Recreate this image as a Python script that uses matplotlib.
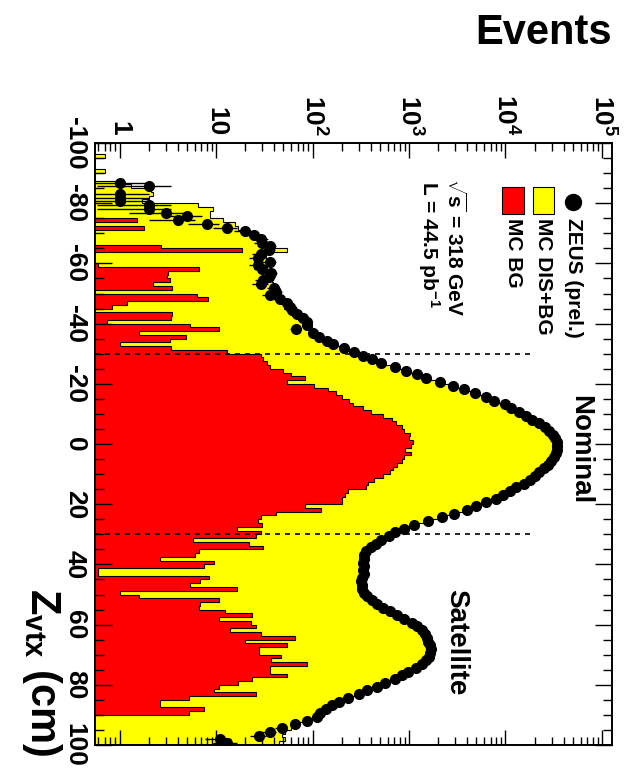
import numpy as np
import matplotlib
matplotlib.use("Agg")
import matplotlib.pyplot as plt
from matplotlib.patches import Rectangle
from matplotlib.lines import Line2D
from matplotlib.ticker import FixedLocator, MultipleLocator, LogLocator, NullFormatter

plt.rcParams['font.family'] = ['Liberation Sans', 'DejaVu Sans']
plt.rcParams['font.weight'] = 'bold'
plt.rcParams['mathtext.fontset'] = 'custom'
plt.rcParams['mathtext.rm'] = 'Liberation Sans:bold'
plt.rcParams['mathtext.it'] = 'Liberation Sans:bold'
plt.rcParams['mathtext.bf'] = 'Liberation Sans:bold'
plt.rcParams['mathtext.sf'] = 'Liberation Sans:bold'

# Z_vtx binning, 160 bins of 1.25 cm
z_edges = np.linspace(-100, 100, 161)

# ZEUS (prel.) data, events per bin
zeus = [
    0, 0, 0, 0, 0, 0, 0, 0, 0, 0,
    1, 2, 0, 1, 1, 1, 2, 2, 3, 5,
    4, 8, 13, 20, 25, 29, 30, 36, 35, 29,
    27, 36, 27, 30, 37, 35, 31, 29, 40, 42,
    36, 46, 54, 58, 62, 69, 80, 87, 88, 67,
    102, 118, 140, 165, 210, 270, 330, 410, 510, 720,
    930, 1200, 1510, 2090, 2880, 3700, 4800, 6300, 7600, 9800,
    11500, 13800, 16200, 19000, 22400, 25700, 28200, 30900, 32400, 33900,
    34300, 33900, 33100, 31600, 29500, 27500, 25100, 22400, 20400, 17800,
    15500, 12900, 11200, 9500, 7900, 6300, 5000, 4000, 2900, 2200,
    1580, 1120, 890, 720, 620, 510, 450, 400, 360, 340,
    340, 330, 340, 330, 340, 325, 315, 325, 325, 345,
    370, 415, 470, 540, 630, 760, 890, 1070, 1200, 1380,
    1480, 1550, 1580, 1660, 1700, 1660, 1620, 1510, 1380, 1170,
    980, 850, 710, 560, 470, 370, 300, 235, 190, 160,
    138, 120, 110, 87, 66, 48, 36, 28, 11, 13,
]

# MC DIS+BG
mc_dis_bg = [
    0, 0, 0, 0.7, 0, 0, 0, 0.7, 0, 0,
    0.9, 1.3, 2.1, 2.2, 2.0, 1.7, 6.5, 9.2, 8.7, 8.7,
    11.7, 15.7, 17, 22, 24, 28, 31, 33, 54, 32,
    33, 34, 33, 34, 36, 37, 38, 39, 41, 43,
    46, 48, 50, 51, 56, 62, 70, 80, 88, 98,
    108, 122, 140, 165, 205, 260, 320, 400, 495, 690,
    890, 1150, 1450, 2000, 2750, 3550, 4600, 6000, 7300, 9300,
    11000, 13300, 15700, 18300, 21500, 24700, 27200, 29800, 31300, 32500,
    32800, 32400, 31800, 30600, 28500, 26500, 24100, 21600, 19600, 17100,
    14900, 12400, 10700, 9100, 7600, 6050, 4800, 3850, 2800, 2100,
    1520, 1080, 855, 690, 595, 490, 430, 385, 345, 330,
    325, 320, 330, 300, 320, 315, 310, 315, 315, 335,
    360, 405, 455, 525, 610, 735, 860, 1030, 1160, 1330,
    1430, 1500, 1530, 1610, 1650, 1620, 1580, 1470, 1340, 1140,
    950, 825, 690, 550, 460, 365, 295, 235, 195, 160,
    135, 122, 104, 86, 70, 60, 52, 48, 52, 45,
]

# MC BG only
mc_bg = [
    0, 0, 0, 0, 0, 0, 0, 0, 0, 0,
    0, 0, 0, 0, 0, 0, 0, 0, 0, 0,
    1.5, 0, 1.8, 0, 0, 0, 0, 2.7, 18.7, 0,
    0, 0, 0.6, 6.7, 3.2, 3.1, 3.3, 2.2, 3.5, 0,
    6.4, 8.3, 1.2, 0.84, 0, 3.5, 3.4, 0.75, 5.4, 10.8,
    1.6, 4.9, 3.3, 1.0, 3.4, 13, 29, 31, 34, 36,
    49, 60, 84, 54, 103, 145, 175, 200, 240, 265,
    330, 400, 535, 660, 740, 840, 880, 1030, 1000, 1110,
    1060, 900, 1050, 880, 850, 760, 680, 640, 535, 430,
    380, 360, 235, 215, 200, 200, 84, 122, 42, 29,
    27, 30, 16.4, 29, 26, 5.8, 21.8, 31, 6.6, 6.0,
    2.6, 9.6, 7.5, 0.6, 0.6, 8.4, 6.9, 5.4, 16.4, 1.0,
    1.6, 10.8, 6.9, 6.6, 12.3, 23.6, 10.8, 23, 26, 14,
    29, 66, 20, 55, 28, 28, 47, 37, 87, 36,
    36, 54, 23.6, 17, 10.8, 9.6, 26, 5.2, 2.6, 2.6,
    7.5, 5.2, 0, 0, 0, 0, 0, 0, 0, 0,
]

z_ticks = [-100, -80, -60, -40, -20, 0, 20, 40, 60, 80, 100]
z_labels = ['-100', '-80', '-60', '-40', '-20', '0', '20', '40', '60', '80', '100']
ev_ticks = [1, 10, 1e2, 1e3, 1e4, 1e5]
ev_labels = ['1', '10', r'$\mathbf{10^{2}}$', r'$\mathbf{10^{3}}$',
             r'$\mathbf{10^{4}}$', r'$\mathbf{10^{5}}$']

# nominal / satellite cut lines
cut_z = [-30, 30]
cut_end = 2e4

FLOOR = 1e-3


def fx(x):
    return x / 624


def fy(y):
    return 1 - y / 771


fig = plt.figure(figsize=(6.24, 7.71), dpi=100)
ax = fig.add_axes([fx(95), fy(745), fx(612) - fx(95), fy(143) - fy(745)])
ax.set_xscale('log')
ax.set_xlim(0.557, 1.27e5)
ax.set_ylim(100, -100)

yel = np.array(mc_dis_bg, dtype=float)
red = np.array(mc_bg, dtype=float)
ax.stairs(np.where(yel > 0, yel, FLOOR), z_edges, orientation='horizontal',
          baseline=FLOOR, fill=True, facecolor='#ffff00', edgecolor='black', linewidth=0.8)
ax.stairs(np.where(red > 0, red, FLOOR), z_edges, orientation='horizontal',
          baseline=FLOOR, fill=True, facecolor='#ff0000', edgecolor='black', linewidth=0.8)

ax.hlines(cut_z, ax.get_xlim()[0], cut_end, colors='black', linestyles=(0, (3, 3)), linewidth=1.2)

# data with sqrt(N) errors (horizontal because the plot is turned)
n = np.array(zeus, dtype=float)
zc = 0.5 * (z_edges[:-1] + z_edges[1:])
m = n > 0
err = np.sqrt(n[m])
lo = n[m] - np.maximum(n[m] - err, 0.01)
ax.errorbar(n[m], zc[m], xerr=[lo, err], fmt='o', color='black', ms=7,
            elinewidth=1.0, capsize=0, zorder=5)

# axes look (ROOT style, turned by 90 degrees)
for s in ax.spines.values():
    s.set_linewidth(1.4)
ax.yaxis.set_major_locator(FixedLocator(z_ticks))
ax.yaxis.set_minor_locator(MultipleLocator(5))
ax.set_yticks(z_ticks, z_labels, rotation=-90, va='center', fontsize=19, fontweight='bold')
ax.xaxis.set_major_locator(FixedLocator(ev_ticks))
ax.xaxis.set_minor_locator(LogLocator(base=10, subs=np.arange(2, 10), numticks=30))
ax.xaxis.set_minor_formatter(NullFormatter())
ax.set_xticks(ev_ticks, ev_labels, rotation=-90, fontsize=19, fontweight='bold')
ax.tick_params(axis='y', which='major', direction='in', length=12.5, width=1,
               left=True, right=True, labelleft=True, labelright=False, pad=6)
ax.tick_params(axis='y', which='minor', direction='in', length=6.5, width=1,
               left=True, right=True)
ax.tick_params(axis='x', which='major', direction='in', length=10.5, width=1,
               top=True, bottom=True, labeltop=True, labelbottom=False, pad=5)
ax.tick_params(axis='x', which='minor', direction='in', length=5.5, width=1,
               top=True, bottom=True)

# titles
fig.text(fx(612), fy(33), 'Events', ha='right', va='center', fontsize=30, fontweight='bold')
fig.text(fx(42), fy(756), r'$\mathbf{Z_{vtx}}$ (cm)', rotation=-90, rotation_mode='anchor',
         ha='right', va='center', fontsize=30, fontweight='bold')

# legend
fig.add_artist(Line2D([fx(573)], [fy(202)], marker='o', ms=11.5, color='black',
                      linestyle='none', transform=fig.transFigure))
fig.add_artist(Rectangle((fx(533), fy(214)), fx(554) - fx(533), fy(187) - fy(214),
                         transform=fig.transFigure, facecolor='#ffff00', edgecolor='black', lw=0.8))
fig.add_artist(Rectangle((fx(502), fy(214)), fx(524) - fx(502), fy(187) - fy(214),
                         transform=fig.transFigure, facecolor='#ff0000', edgecolor='black', lw=0.8))
leg_kw = dict(rotation=-90, rotation_mode='anchor', ha='left', va='center',
              fontsize=15, fontweight='bold')
fig.text(fx(573), fy(218), 'ZEUS (prel.)', **leg_kw)
fig.text(fx(543), fy(218), 'MC DIS+BG', **leg_kw)
fig.text(fx(513), fy(218), 'MC BG', **leg_kw)
fig.text(fx(455), fy(178), r'$\sqrt{s}$ = 318 GeV', **leg_kw)
fig.text(fx(429), fy(181), r'L = 44.5 pb$^{-1}$', **leg_kw)

fig.text(fx(580), fy(395), 'Nominal', rotation=-90, rotation_mode='anchor',
         ha='left', va='center', fontsize=20, fontweight='bold')
fig.text(fx(456), fy(589), 'Satellite', rotation=-90, rotation_mode='anchor',
         ha='left', va='center', fontsize=20, fontweight='bold')

fig.savefig('out.png', dpi=100)
